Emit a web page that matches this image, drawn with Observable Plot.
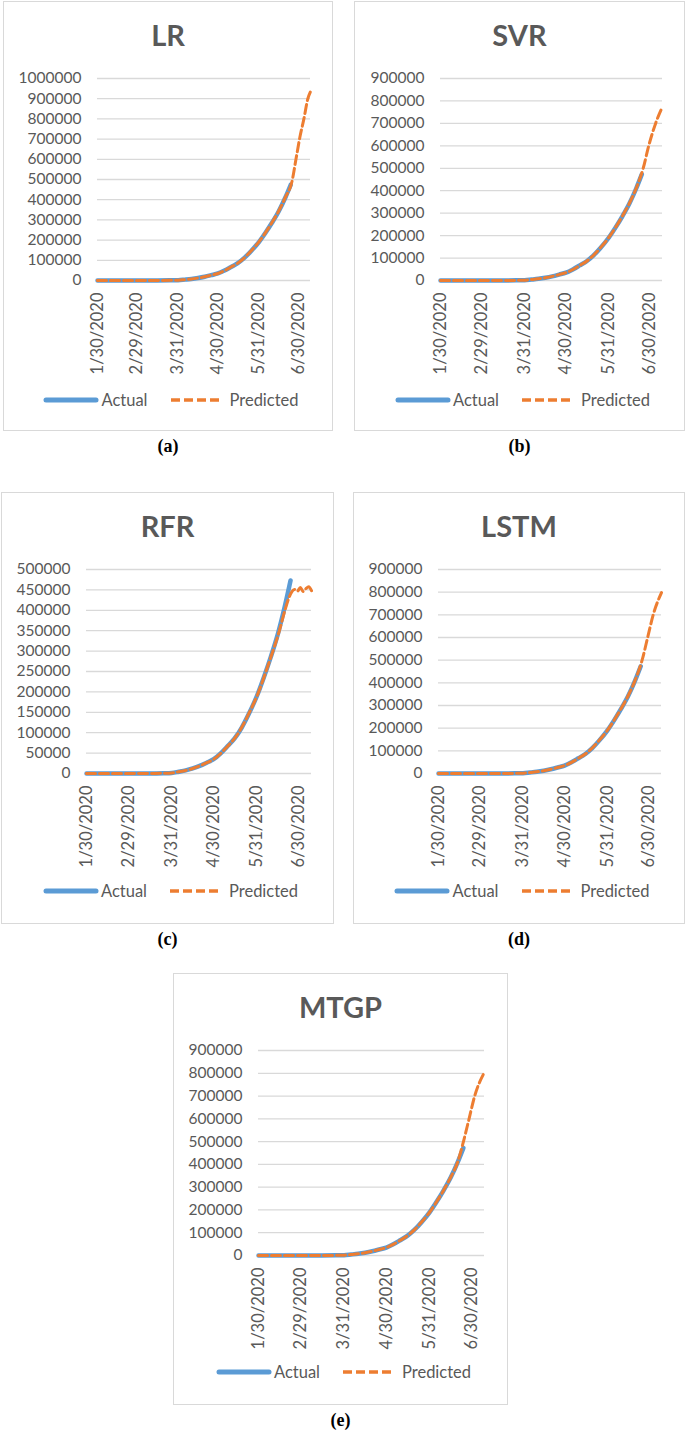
<!DOCTYPE html>
<html><head><meta charset="utf-8">
<script src="https://cdn.jsdelivr.net/npm/d3@7"></script>
<script src="https://cdn.jsdelivr.net/npm/@observablehq/plot@0.6"></script>
<style>
body{margin:0;background:#fff;}
#page{position:relative;width:685px;height:1430px;font-family:Lato,"Open Sans",sans-serif;overflow:hidden;}
.box{position:absolute;border:1px solid #d9d9d9;box-sizing:border-box;}
.title{position:absolute;text-align:center;font-weight:bold;font-size:29px;line-height:34px;color:#595959;}
.legend{position:absolute;display:flex;justify-content:center;align-items:center;font-size:16.5px;color:#595959;height:20px;}
.cap{position:absolute;text-align:center;font-family:"Liberation Serif","Times New Roman",serif;font-weight:bold;font-size:18px;line-height:20px;color:#000;}
.plotwrap{position:absolute;}
</style></head>
<body><div id="page"></div>
<script>
// ---------- data ----------
const models = ["LR", "SVR", "RFR", "LSTM", "MTGP"];
const panelTags = ["(a)", "(b)", "(c)", "(d)", "(e)"];
const yMaxes = [1000000, 900000, 500000, 900000, 900000];
const ySteps = [100000, 100000, 50000, 100000, 100000];
const tickDates = ["2020-01-30","2020-02-29","2020-03-31","2020-04-30","2020-05-31","2020-06-30"];
const tickLabels = ["1/30/2020","2/29/2020","3/31/2020","4/30/2020","5/31/2020","6/30/2020"];
const xDomain = ["2020-01-30", "2020-07-09"];

const actualDates = ["2020-01-30","2020-02-15","2020-03-01","2020-03-15","2020-03-25","2020-03-31","2020-04-05","2020-04-10","2020-04-15","2020-04-20","2020-04-25","2020-04-30","2020-05-05","2020-05-10","2020-05-15","2020-05-20","2020-05-25","2020-05-31","2020-06-05","2020-06-10","2020-06-15","2020-06-20","2020-06-24"];
const actualCases = [1,3,3,110,650,1400,4300,7600,12400,18600,26500,35000,49400,67200,85900,112000,145000,190500,236700,287000,343000,411000,473000];

const baseDates = ["2020-01-30","2020-02-15","2020-03-01","2020-03-15","2020-03-25","2020-03-31","2020-04-05","2020-04-10","2020-04-15","2020-04-20","2020-04-25","2020-04-30","2020-05-05","2020-05-10","2020-05-15","2020-05-20","2020-05-25","2020-05-31","2020-06-05","2020-06-10","2020-06-15","2020-06-20"];

const lrDates = baseDates.concat(["2020-06-25","2020-06-28","2020-07-01","2020-07-04","2020-07-07","2020-07-09"]);
const lrPred = [1,3,3,100,640,1380,4200,7500,12300,18500,26400,34800,49000,67000,86000,112500,146000,191000,237000,288000,344000,412000,490000,600000,710000,800000,900000,935000];

const svrDates = baseDates.concat(["2020-06-25","2020-06-29","2020-07-04","2020-07-09"]);
const svrPred = [1,3,3,100,640,1380,4200,7500,12300,18500,26400,34800,49000,67000,86000,112500,146000,191000,237000,288000,344000,412000,500000,600000,700000,775000];

const rfrDates = baseDates.concat(["2020-06-23","2020-06-25","2020-06-27","2020-06-29","2020-07-01","2020-07-03","2020-07-05","2020-07-07","2020-07-09"]);
const rfrPred = [1,3,3,100,640,1380,4200,7500,12300,18500,26400,34800,49000,67000,86000,112500,146000,190000,236000,286000,338000,400000,432000,446000,451000,447000,456000,446000,453000,458000,448000];

const lstmDates = baseDates.concat(["2020-06-25","2020-06-29","2020-07-03","2020-07-09"]);
const lstmPred = [1,3,3,100,640,1380,4200,7500,12300,18500,26400,34800,49000,67000,86000,112500,146000,191000,237000,288000,344000,412000,500000,600000,700000,798000];

const mtgpDates = baseDates.concat(["2020-06-24","2020-06-28","2020-07-02","2020-07-09"]);
const mtgpPred = [1,3,3,100,640,1380,4200,7500,12300,18500,26400,34800,49000,67000,86000,112500,146000,191000,237000,288000,344000,412000,500000,600000,700000,805000];

const predDates = [lrDates, svrDates, rfrDates, lstmDates, mtgpDates];
const predValues = [lrPred, svrPred, rfrPred, lstmPred, mtgpPred];

// ---------- layout ----------
const layout = [
  {bx:3,   by:1,   bw:330, bh:430, pl:97,  pr:310, pt:78,   pb:280},
  {bx:354, by:1,   bw:331, bh:430, pl:440, pr:662, pt:78,   pb:280},
  {bx:1,   by:492, bw:333, bh:432, pl:86,  pr:311, pt:569,  pb:773},
  {bx:353, by:492, bw:332, bh:432, pl:438, pr:661, pt:569,  pb:773},
  {bx:173, by:973, bw:335, bh:432, pl:258, pr:484, pt:1050, pb:1255}
];

const parse = d3.utcParse("%Y-%m-%d");
const blue = "#5B9BD5", orange = "#ED7D31", grey = "#595959";
const page = document.getElementById("page");
const tickDatesP = tickDates.map(parse);
const labelOf = new Map(tickDatesP.map((d, i) => [+d, tickLabels[i]]));
const actual = actualDates.map((d, i) => ({date: parse(d), value: actualCases[i]}));

models.forEach((name, k) => {
  const L = layout[k];
  const box = document.createElement("div");
  box.className = "box";
  Object.assign(box.style, {left: L.bx + "px", top: L.by + "px", width: L.bw + "px", height: L.bh + "px"});
  page.appendChild(box);

  const t = document.createElement("div");
  t.className = "title";
  t.textContent = name;
  Object.assign(t.style, {left: L.bx + "px", width: L.bw + "px", top: (L.by + 34 - 17) + "px"});
  page.appendChild(t);

  const pred = predDates[k].map((d, i) => ({date: parse(d), value: predValues[k][i]}));
  const mt = 20, mb = 100;
  const svgTop = L.pt - mt;
  const chart = Plot.plot({
    width: L.bw,
    height: (L.pb - L.pt) + mt + mb,
    marginLeft: L.pl - L.bx,
    marginRight: L.bx + L.bw - L.pr,
    marginTop: mt,
    marginBottom: mb,
    x: {type: "utc", domain: xDomain.map(parse)},
    y: {domain: [0, yMaxes[k]]},
    style: {fontFamily: "Lato, 'Open Sans', sans-serif", fontSize: "15.5px", color: grey, background: "transparent", overflow: "visible"},
    marks: [
      Plot.gridY(d3.range(0, yMaxes[k] + 1, ySteps[k]), {stroke: "#d9d9d9", strokeOpacity: 1, strokeWidth: 1.3}),
      Plot.axisY(d3.range(0, yMaxes[k] + 1, ySteps[k]), {tickSize: 0, tickPadding: 16, tickFormat: d => String(d), fill: grey, fontSize: 15.5, label: null}),
      Plot.axisX(tickDatesP, {tickSize: 0, tickPadding: 12, tickRotate: -90, tickFormat: d => labelOf.get(+d), fill: grey, fontSize: 16.5, label: null}),
      Plot.line(actual, {x: "date", y: "value", stroke: blue, strokeWidth: 4.5, curve: "monotone-x"}),
      Plot.line(pred, {x: "date", y: "value", stroke: orange, strokeWidth: 3, strokeDasharray: "9,4", curve: "monotone-x"})
    ]
  });
  const wrap = document.createElement("div");
  wrap.className = "plotwrap";
  Object.assign(wrap.style, {left: L.bx + "px", top: svgTop + "px"});
  wrap.appendChild(chart);
  page.appendChild(wrap);

  const lg = document.createElement("div");
  lg.className = "legend";
  Object.assign(lg.style, {left: (L.bx + 3) + "px", width: L.bw + "px", top: (L.by + 399 - 10) + "px"});
  lg.innerHTML =
    `<svg width="56" height="10"><line x1="3" y1="5" x2="53" y2="5" stroke="${blue}" stroke-width="5" stroke-linecap="round"/></svg>` +
    `<span style="margin-left:2px">Actual</span>` +
    `<svg width="52" height="10" style="margin-left:23px"><line x1="0" y1="5" x2="52" y2="5" stroke="${orange}" stroke-width="3.5" stroke-dasharray="9,4"/></svg>` +
    `<span style="margin-left:7px">Predicted</span>`;
  page.appendChild(lg);

  const c = document.createElement("div");
  c.className = "cap";
  c.textContent = panelTags[k];
  Object.assign(c.style, {left: L.bx + "px", width: L.bw + "px", top: (L.by + L.bh + 15 - 10) + "px"});
  page.appendChild(c);
});
</script>
</body></html>
